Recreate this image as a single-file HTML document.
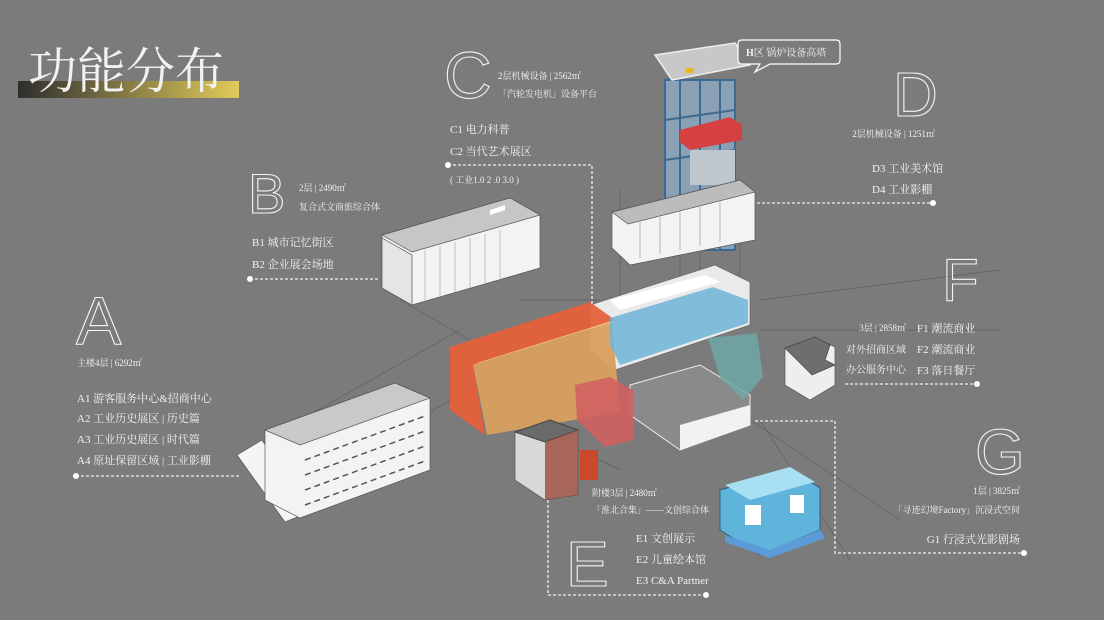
<!DOCTYPE html>
<html><head><meta charset="utf-8"><style>
html,body{margin:0;padding:0;background:#7b7b7b;}
svg{display:block}
.s{font-family:"Liberation Serif","Noto Serif CJK SC",serif;fill:#f2f2f2}
.big{font-family:"Liberation Sans",sans-serif;fill:none;stroke:#f4f4f4;stroke-width:1.1;font-weight:normal}
.d{stroke:#f0f0f0;stroke-width:1.3;stroke-dasharray:3 2;fill:none}
.g{stroke:#5f5f5f;stroke-width:.7;fill:none}
.w{fill:#f3f3f3;stroke:#555;stroke-width:.7}
.w2{fill:#d8d8d8;stroke:#555;stroke-width:.7}
</style></head><body>
<svg width="1104" height="620" viewBox="0 0 1104 620">
<defs><linearGradient id="gb" x1="0" x2="1"><stop offset="0" stop-color="#2e2e2e"/><stop offset="1" stop-color="#e2cb5a"/></linearGradient></defs>
<rect width="1104" height="620" fill="#7b7b7b"/>
<rect x="18" y="81" width="221" height="17" fill="url(#gb)"/>
<text x="28" y="88" class="s" font-size="49" fill="#fff">功能分布</text>

<g class="g">
<path d="M300 420 L460 330 M330 470 L520 360 M400 300 L470 340 M520 300 L600 300 M760 300 L1000 270 M760 330 L1000 330 M750 420 L900 520 M620 190 L620 310 M700 240 L700 310 M740 240 L740 300 M680 250 L680 300 M560 440 L620 470 M760 420 L850 560"/>
</g>

<g>
<rect x="665" y="80" width="70" height="170" fill="#8aa0b4" stroke="#3d6a90" stroke-width="2"/>
<path d="M665 80 L720 70 M665 120 L735 110 M665 160 L735 150 M665 200 L735 190 M665 240 L735 230 M680 80 L680 250 M700 80 L700 250 M720 80 L720 250" stroke="#3d6a90" stroke-width="2"/>
<polygon points="655,55 735,43 750,65 672,80" fill="#c8c8c8" stroke="#eee" stroke-width="1.5"/>
<rect x="686" y="68" width="8" height="5" fill="#e8b820"/>
<polygon points="680,130 730,117 742,125 742,140 690,150 680,142" fill="#d74040"/>
<rect x="690" y="150" width="45" height="35" fill="#bfc7ce"/>
</g>
<path d="M742 40 H836 Q840 40 840 44 V60 Q840 64 836 64 H770 L755 72 L760 64 H742 Q738 64 738 60 V44 Q738 40 742 40Z" fill="#7b7b7b" stroke="#fff" stroke-width="1.2"/>
<text x="746" y="56" class="s" font-size="10"><tspan font-weight="bold">H</tspan>区 锅炉设备高塔</text>

<polygon points="612,212 740,180 755,192 755,240 630,265 612,248" class="w"/>
<polygon points="612,212 740,180 755,192 628,224" fill="#bcbcbc" stroke="#555" stroke-width=".7"/>
<path d="M640 222 V258 M660 217 V254 M680 212 V250 M700 207 V246 M720 202 V242" stroke="#999" stroke-width=".7"/>

<polygon points="382,235 510,198 540,215 540,268 412,305 382,288" class="w"/>
<polygon points="382,235 510,198 540,215 412,252" fill="#c6c6c6" stroke="#555" stroke-width=".7"/>
<polygon points="382,238 412,255 412,305 382,288" fill="#e5e5e5" stroke="#555" stroke-width=".7"/>
<path d="M425 250 V300 M440 246 V296 M455 242 V292 M470 238 V288 M485 234 V284 M500 230 V280" stroke="#aaa" stroke-width=".7"/>
<polygon points="490,210 505,205 505,210 490,215" fill="#fff"/>

<polygon points="590,305 715,265 750,282 750,325 615,370 590,350" fill="#eaeaea" stroke="#666" stroke-width=".7"/>
<polygon points="610,300 705,275 720,282 620,310" fill="#fff"/>

<polygon points="237,455 262,440 310,512 285,522" fill="#f5f5f5" stroke="#555" stroke-width=".7"/>
<polygon points="265,430 395,383 430,398 430,470 300,518 265,500" class="w"/>
<polygon points="265,430 395,383 430,398 300,445" fill="#c9c9c9" stroke="#555" stroke-width=".7"/>
<path d="M305 460 L425 416 M305 475 L425 431 M305 490 L425 446 M305 505 L425 461" stroke="#555" stroke-width="1.5" stroke-dasharray="6 4"/>

<polygon points="630,385 700,365 750,395 750,425 680,450 630,415" fill="#8a8a8a" stroke="#eee" stroke-width="1"/>
<polygon points="680,425 750,405 750,425 680,450" fill="#f2f2f2"/>

<polygon points="785,348 815,337 835,347 835,385 810,400 785,385" fill="#eee" stroke="#555" stroke-width=".7"/>
<polygon points="785,348 815,337 830,345 825,360 835,365 812,375" fill="#6e6e6e" stroke="#444" stroke-width=".7"/>

<polygon points="450,347 590,302 615,320 473,365 485,435 450,410" fill="#e5603a" opacity=".95"/>
<polygon points="473,365 612,322 620,412 487,435" fill="#d9a060" opacity=".95"/>
<polygon points="473,365 612,322 615,320 480,362" fill="#f0c080"/>
<polygon points="610,318 713,287 748,300 748,323 620,365 610,345" fill="#6fb5d8" opacity=".85"/>
<polygon points="708,338 757,333 763,377 743,400 720,377" fill="#6fa7a6" opacity=".85"/>
<polygon points="575,385 610,377 633,390 633,440 605,447 577,420" fill="#d06060" opacity=".9"/>

<polygon points="515,432 550,420 578,430 578,495 545,500 515,480" class="w2"/>
<polygon points="515,432 550,420 578,430 545,442" fill="#6a6a6a" stroke="#444"/>
<polygon points="545,442 578,430 578,495 545,500" fill="#9b4a3a" opacity=".8"/>
<rect x="580" y="450" width="18" height="30" fill="#c94a2a"/>

<polygon points="720,490 790,470 820,488 820,530 760,555 720,530" fill="#5fb4dc" stroke="#2d5f7a" stroke-width="1"/>
<polygon points="725,485 790,467 815,482 750,500" fill="#a8dff2"/>
<rect x="745" y="505" width="16" height="20" fill="#fff"/>
<rect x="790" y="495" width="14" height="18" fill="#fff"/>
<polygon points="725,535 770,550 820,530 825,538 770,558 725,542" fill="#5c9bd8"/>

<text x="76" y="344" class="big" font-size="68">A</text>
<text x="248" y="213" class="big" font-size="56">B</text>
<text x="444" y="98" class="big" font-size="66">C</text>
<text x="893" y="116" class="big" font-size="62">D</text>
<text x="566" y="586" class="big" font-size="64">E</text>
<text x="942" y="301" class="big" font-size="60">F</text>
<text x="975" y="474" class="big" font-size="64">G</text>

<text x="77" y="366" class="s" font-size="9">主楼4层 | 6292㎡</text>
<text x="77" y="402" class="s" font-size="11">A1  游客服务中心&amp;招商中心</text>
<text x="77" y="422" class="s" font-size="11">A2 工业历史展区 | 历史篇</text>
<text x="77" y="443" class="s" font-size="11">A3 工业历史展区 | 时代篇</text>
<text x="77" y="464" class="s" font-size="11">A4 原址保留区域 | 工业影棚</text>
<path d="M76 476 H240" class="d"/><circle cx="76" cy="476" r="3" fill="#fff"/>

<text x="299" y="191" class="s" font-size="9">2层 | 2490㎡</text>
<text x="299" y="210" class="s" font-size="9">复合式文商旅综合体</text>
<text x="252" y="246" class="s" font-size="11">B1 城市记忆街区</text>
<text x="252" y="268" class="s" font-size="11">B2 企业展会场地</text>
<path d="M250 279 H380" class="d"/><circle cx="250" cy="279" r="3" fill="#fff"/>

<text x="498" y="79" class="s" font-size="9">2层机械设备 | 2562㎡</text>
<text x="498" y="97" class="s" font-size="9">「汽轮发电机」设备平台</text>
<text x="450" y="133" class="s" font-size="11">C1 电力科普</text>
<text x="450" y="155" class="s" font-size="11">C2 当代艺术展区</text>
<path d="M448 165 H592 V305" class="d"/><circle cx="448" cy="165" r="3" fill="#fff"/>
<text x="450" y="183" class="s" font-size="9">( 工业1.0 2 .0 3.0 )</text>

<text x="935" y="137" class="s" font-size="9" text-anchor="end">2层机械设备 | 1251㎡</text>
<text x="872" y="172" class="s" font-size="11">D3 工业美术馆</text>
<text x="872" y="193" class="s" font-size="11">D4 工业影棚</text>
<path d="M757 203 H933" class="d"/><circle cx="933" cy="203" r="3" fill="#fff"/>

<text x="906" y="331" class="s" font-size="9" text-anchor="end">3层 | 2858㎡</text>
<text x="906" y="353" class="s" font-size="10" text-anchor="end">对外招商区域</text>
<text x="906" y="373" class="s" font-size="10" text-anchor="end">办公服务中心</text>
<text x="917" y="332" class="s" font-size="11">F1 潮流商业</text>
<text x="917" y="353" class="s" font-size="11">F2 潮流商业</text>
<text x="917" y="374" class="s" font-size="11">F3 落日餐厅</text>
<path d="M845 384 H977" class="d"/><circle cx="977" cy="384" r="3" fill="#fff"/>

<text x="1020" y="494" class="s" font-size="9" text-anchor="end">1层 | 3825㎡</text>
<text x="1020" y="513" class="s" font-size="9" text-anchor="end">「寻迹幻境Factory」沉浸式空间</text>
<text x="1020" y="543" class="s" font-size="11" text-anchor="end">G1 行浸式光影剧场</text>
<path d="M755 421 H835 V553 H1024" class="d"/><circle cx="1024" cy="553" r="3" fill="#fff"/>

<text x="592" y="496" class="s" font-size="9">附楼3层 | 2480㎡</text>
<text x="592" y="513" class="s" font-size="9">「淮北合集」——文创综合体</text>
<text x="636" y="542" class="s" font-size="11">E1 文创展示</text>
<text x="636" y="563" class="s" font-size="11">E2 儿童绘本馆</text>
<text x="636" y="584" class="s" font-size="11">E3 C&amp;A Partner</text>
<path d="M548 500 V595 H706" class="d"/><circle cx="706" cy="595" r="3" fill="#fff"/>
</svg>
</body></html>
